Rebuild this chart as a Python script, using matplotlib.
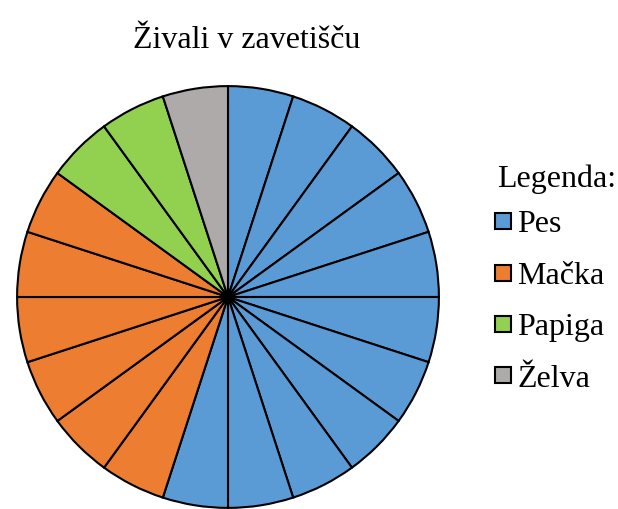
import matplotlib.pyplot as plt
from matplotlib.lines import Line2D

# podatki
kategorije = ['Pes', 'Mačka', 'Papiga', 'Želva']
stevila = [11, 6, 2, 1]
barve = ['#5B9BD5', '#ED7D31', '#92D050', '#AEAAAA']

plt.rcParams['font.family'] = ['Liberation Serif', 'DejaVu Serif']

# vsaka žival je svoj kos
vrednosti, barve_kosov = [], []
for n, b in zip(stevila, barve):
    vrednosti += [1] * n
    barve_kosov += [b] * n

fig = plt.figure(figsize=(6.18, 5.09), dpi=100)
ax = fig.add_axes([15 / 618, -1 / 509, 426 / 618, 426 / 509])
ax.pie(vrednosti, colors=barve_kosov, startangle=90, counterclock=False,
       radius=1, wedgeprops=dict(edgecolor='black', linewidth=1.5))
ax.set_xlim(-1.01, 1.01)
ax.set_ylim(-1.01, 1.01)
ax.set_aspect('equal')
ax.axis('off')

fig.text(247 / 618, 1 - 41 / 509, 'Živali v zavetišču', fontsize=23,
         ha='center', va='center')
fig.text(497 / 618, 1 - 179 / 509, 'Legenda:', fontsize=23,
         ha='left', va='center')

rocaji = [Line2D([], [], linestyle='none', marker='s', markersize=11,
                 markerfacecolor=b, markeredgecolor='black', markeredgewidth=1.5)
          for b in barve]
leg = fig.legend(rocaji, kategorije, loc='upper left',
                 bbox_to_anchor=(495 / 618, 1 - 210 / 509), frameon=False,
                 fontsize=23, handlelength=0.5,
                 handletextpad=0.2, labelspacing=0.69, borderpad=0,
                 borderaxespad=0)

fig.savefig('out.png', dpi=100)
